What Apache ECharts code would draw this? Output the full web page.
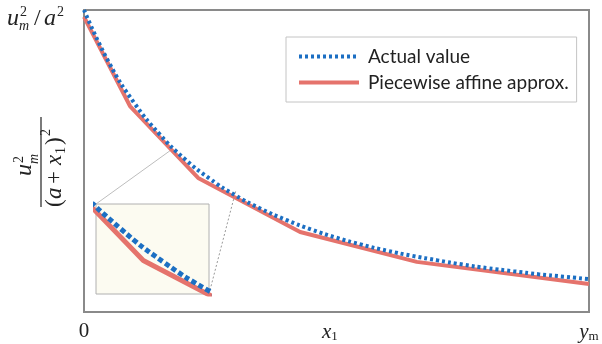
<!DOCTYPE html>
<html>
<head>
<meta charset="utf-8">
<script src="https://cdn.jsdelivr.net/npm/echarts@6/dist/echarts.min.js"></script>
<style>
  html,body{margin:0;padding:0;background:#fff;}
  #chart{width:602px;height:344px;}
</style>
</head>
<body>
<div id="chart"></div>
<script>
// x position along the axis (0..100), value (0..100, top of frame = u_m^2/a^2)
var actualX = [0, 5, 10, 15, 20, 25, 30, 35, 40, 45, 50, 55, 60, 65, 70, 75, 80, 85, 90, 95, 100];
var actualY = [100, 82.4, 69.1, 58.8, 50.6, 44.0, 38.6, 34.2, 30.5, 27.3, 24.6, 22.3, 20.3, 18.6, 17.1, 15.7, 14.5, 13.5, 12.5, 11.7, 10.9];
var approxX = [0, 9.1, 22.6, 42.8, 65.9, 100];
var approxY = [97.7, 68.2, 44.4, 26.5, 16.6, 9.3];
// zoomed window shown in the inset
var insetX = [17.2, 30.1];
var insetY = [37.9, 55.4];
// bottom tick labels
var xTickValues = [0, 48.7, 100];
var xTickLabels = ['{n|0}', '{i|x}{s|1}', '{i|y}{s|m}'];
var legendNames = ['Actual value', 'Piecewise affine approx.'];

var blue = '#1c6fc3', red = '#e5736c';
function pairs(xs, ys) { return xs.map(function (x, i) { return [x, ys[i]]; }); }

var serif = '"Liberation Serif", "DejaVu Serif", serif';
function g(t, x, y, size, italic) {
  return {
    type: 'text', x: x, y: y,
    style: { text: t, font: (italic ? 'italic ' : '') + size + 'px ' + serif, fill: '#222', verticalAlign: 'middle' }
  };
}

var chart = echarts.init(document.getElementById('chart'));
chart.setOption({
  animation: false,
  grid: [
    { left: 84, top: 10, right: 13, bottom: 32, show: true, borderColor: '#8a8a8a', borderWidth: 2, backgroundColor: 'transparent' },
    { left: 96, top: 204, width: 113, height: 90, show: true, borderColor: '#b0b0b0', borderWidth: 1, backgroundColor: '#fcfbf1', z: 1 }
  ],
  xAxis: [
    {
      type: 'value', gridIndex: 0, min: 0, max: 100,
      axisLine: { show: false }, axisTick: { show: false }, splitLine: { show: false },
      axisLabel: {
        customValues: xTickValues, margin: 9, color: '#222',
        formatter: function (v) { return xTickLabels[xTickValues.indexOf(v)]; },
        rich: {
          n: { fontFamily: serif, fontSize: 21, color: '#222' },
          i: { fontFamily: serif, fontSize: 21, fontStyle: 'italic', color: '#222', lineHeight: 22 },
          s: { fontFamily: serif, fontSize: 13, color: '#222', verticalAlign: 'bottom', lineHeight: 13 }
        }
      }
    },
    { type: 'value', gridIndex: 1, min: insetX[0], max: insetX[1], show: false }
  ],
  yAxis: [
    { type: 'value', gridIndex: 0, min: 0, max: 100, axisLine: { show: false }, axisTick: { show: false }, splitLine: { show: false }, axisLabel: { show: false } },
    { type: 'value', gridIndex: 1, min: insetY[0], max: insetY[1], show: false }
  ],
  legend: {
    left: 286, top: 37, orient: 'vertical',
    data: legendNames,
    backgroundColor: '#fff', borderColor: '#c4c4c4', borderWidth: 1,
    padding: [10, 8, 10, 11], itemGap: 7, itemWidth: 60, itemHeight: 16,
    itemStyle: { opacity: 0 },
    lineStyle: { width: 4 },
    textStyle: { fontFamily: 'Lato, "Open Sans", sans-serif', fontSize: 19, lineHeight: 18, color: '#222', padding: [0, 0, 0, 4] }
  },
  series: [
    { name: legendNames[1], type: 'line', xAxisIndex: 0, yAxisIndex: 0, data: pairs(approxX, approxY), symbol: 'none', z: 2,
      color: red, lineStyle: { color: red, width: 4 } },
    { name: legendNames[0], type: 'line', xAxisIndex: 0, yAxisIndex: 0, data: pairs(actualX, actualY), symbol: 'none', smooth: true, z: 3,
      color: blue, lineStyle: { color: blue, width: 4, type: [3, 3] } },
    { name: legendNames[1], type: 'line', xAxisIndex: 1, yAxisIndex: 1, data: pairs(approxX, approxY), symbol: 'none', z: 4,
      color: red, lineStyle: { color: red, width: 5 } },
    { name: legendNames[0], type: 'line', xAxisIndex: 1, yAxisIndex: 1, data: pairs(actualX, actualY), symbol: 'none', smooth: true, z: 5,
      color: blue, lineStyle: { color: blue, width: 5, type: [5, 3] } }
  ],
  graphic: [
    // connectors between inset and zoomed region
    { type: 'line', shape: { x1: 96, y1: 204, x2: 171, y2: 150 }, style: { stroke: '#bdbdbd', lineWidth: 1 }, z: 1 },
    { type: 'line', shape: { x1: 209, y1: 294, x2: 236, y2: 190 }, style: { stroke: '#999', lineWidth: 1, lineDash: [2, 2] }, z: 1 },
    // top y label  u_m^2 / a^2
    { type: 'group', children: [
      g('u', 7, 19, 24, true), g('2', 20, 12, 14, false), g('m', 19, 26, 14, true),
      g('/', 34, 19, 24, false), g('a', 44, 19, 24, true), g('2', 57, 12, 14, false)
    ] },
    // rotated y label  u_m^2 / (a + x_1)^2
    { type: 'group', x: 41, y: 162, rotation: Math.PI / 2, children: [
      g('u', -14, -16, 24, true), g('2', -1, -22, 14, false), g('m', -2, -7, 14, true),
      { type: 'line', shape: { x1: -45, y1: 0, x2: 45, y2: 0 }, style: { stroke: '#333', lineWidth: 1.3 } },
      g('(', -45, 14, 23, false), g('a', -37, 14, 23, true), g('+', -22, 14, 23, false),
      g('x', -3, 14, 23, true), g('1', 8, 20, 14, false), g(')', 17, 14, 23, false), g('2', 26, 5, 14, false)
    ] }
  ]
});
</script>
</body>
</html>
